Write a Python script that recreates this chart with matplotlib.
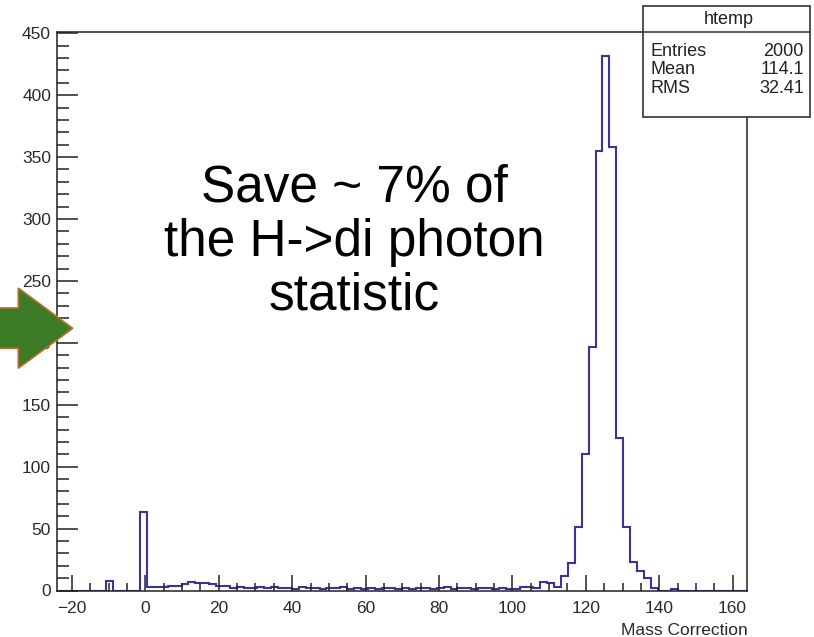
import matplotlib
matplotlib.use('Agg')
import matplotlib.pyplot as plt
from matplotlib.patches import Polygon, Rectangle
from matplotlib.lines import Line2D
import numpy as np

plt.rcParams['font.family'] = ['Liberation Sans', 'DejaVu Sans']

# ROOT histogram "htemp": 100 bins over the auto range
x_min, x_max, n_bins = -24.0, 164.0, 100
counts = [
    0, 0, 0, 0, 0, 0, 0, 8, 0, 0,          # 0-9
    0, 0, 63, 3, 3, 3, 4, 4, 5, 7,         # 10-19
    6, 6, 5, 4, 4, 2, 3, 2, 2, 3,          # 20-29
    2, 3, 2, 2, 1, 3, 2, 2, 1, 2,          # 30-39
    2, 3, 1, 2, 1, 2, 1, 2, 2, 1,          # 40-49
    2, 1, 2, 2, 1, 2, 3, 1, 2, 2,          # 50-59
    1, 2, 2, 1, 2, 1, 1, 3, 3, 2,          # 60-69
    7, 6, 3, 12, 22, 51, 110, 197, 355, 432,  # 70-79
    358, 123, 51, 23, 16, 10, 2, 0, 0, 1,  # 80-89
    0, 0, 0, 0, 0, 0, 0, 0, 0, 0,          # 90-99
]
stats_name = 'htemp'
stats_rows = [('Entries', '2000'), ('Mean', '114.1'), ('RMS', '32.41')]
xlabel = 'Mass Correction'
note = 'Save ~ 7% of\nthe H->di photon\nstatistic'

W, H = 814, 637
fig = plt.figure(figsize=(W / 100, H / 100), dpi=100)
fig.patch.set_facecolor('white')

def fx(px):
    return px / W

def fy(py):
    return 1 - py / H

ax = fig.add_axes([fx(57.3), fy(590.5), fx(747.3) - fx(57.3), fy(32) - fy(590.5)])
edges = np.linspace(x_min, x_max, n_bins + 1)
ax.stairs(counts, edges, color='#35359d', linewidth=1.5)

ax.set_xlim(x_min, x_max)
ax.set_ylim(0, 451)
ax.set_xticks(np.arange(-20, 161, 20))
ax.set_xticks(np.arange(-20, 165, 5), minor=True)
ax.set_yticks(np.arange(0, 451, 50))
ax.set_yticks(np.arange(0, 451, 10), minor=True)
ax.tick_params(axis='both', which='both', direction='in', width=1.1,
               color='#222222', labelsize=12.5, labelcolor='#2a2a2a')
ax.tick_params(axis='y', which='major', length=15, pad=4.5)
ax.tick_params(axis='y', which='minor', length=8.5)
ax.tick_params(axis='x', which='major', length=11.5, pad=7.5)
ax.tick_params(axis='x', which='minor', length=5.5)
for s in ax.spines.values():
    s.set_linewidth(1.1)
    s.set_color('#222222')
ax.set_xlabel(xlabel, loc='right', fontsize=12.5, labelpad=5, color='#2a2a2a')

# annotation text
fig.text(fx(354), fy(242), note, ha='center', va='center', fontsize=37,
         linespacing=1.12, color='black')

# statistics box (covers the top-right corner of the frame)
bx0, by0, bx1, by1 = 643, 6, 810, 116.7
fig.add_artist(Rectangle((fx(bx0), fy(by1)), fx(bx1) - fx(bx0), fy(by0) - fy(by1),
                         transform=fig.transFigure, facecolor='white',
                         edgecolor='#333333', linewidth=1.2, zorder=4))
fig.add_artist(Line2D([fx(bx0), fx(bx1)], [fy(31.7), fy(31.7)],
                      transform=fig.transFigure, color='#333333', lw=1.1, zorder=5))
fig.text(fx(729), fy(20), stats_name, ha='center', va='center', fontsize=13,
         color='#222222', zorder=6)
for i, (k, v) in enumerate(stats_rows):
    yy = 51.7 + i * 18.3
    fig.text(fx(651), fy(yy), k, ha='left', va='center', fontsize=13,
             color='#222222', zorder=6)
    fig.text(fx(804), fy(yy), v, ha='right', va='center', fontsize=13,
             color='#222222', zorder=6)

# green arrow pointing at the plot
arrow_px = [(-5, 308), (18.3, 308), (18.3, 288), (72.7, 328.3),
            (18.3, 368.3), (18.3, 348.3), (-5, 348.3)]
fig.add_artist(Polygon([(fx(a), fy(b)) for a, b in arrow_px], closed=True,
                       transform=fig.transFigure, facecolor='#3d7b27',
                       edgecolor='#b5702f', linewidth=1.2, zorder=7))

fig.savefig('out.png', dpi=100)
plt.close('all')
